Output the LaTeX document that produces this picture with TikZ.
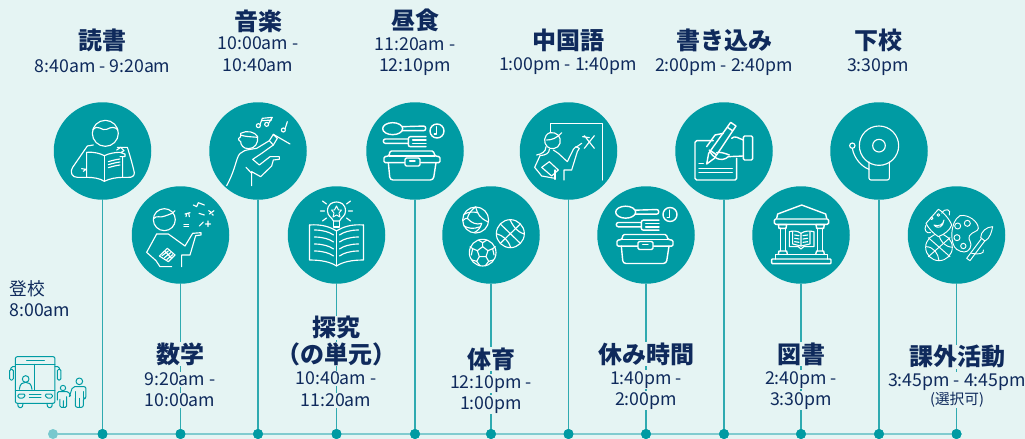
\documentclass[tikz,border=0pt]{standalone}
\usepackage{fontspec}
\setmainfont{Noto Sans CJK JP}
\definecolor{bgc}{HTML}{E5F4F3}
\definecolor{tealc}{HTML}{009BA3}
\definecolor{stemc}{HTML}{2FAAB0}
\definecolor{axisc}{HTML}{80CBCF}
\definecolor{startc}{HTML}{78C8CE}
\definecolor{navy}{HTML}{0F2A5C}
\tikzset{
 disc/.style={circle,fill=tealc,minimum size=97.5*0.75pt,inner sep=0pt},
 dot/.style={circle,fill=tealc,minimum size=10*0.75pt,inner sep=0pt},
 stem/.style={draw=stemc,line width=1.1pt},
 title/.style={text=navy,font=\fontsize{18}{18}\selectfont\bfseries,inner sep=0.5pt,fill=bgc,yshift=-0.7pt},
 tm/.style={text=navy,font=\fontsize{13.3}{14}\selectfont,inner sep=0.5pt,fill=bgc,yshift=-1.2pt},
 ic/.style={draw=white,line width=0.85pt,line join=round,line cap=round},
 ict/.style={ic,line width=1.05pt},
 icf/.style={ic,line width=0.7pt},
 bus/.style={draw=tealc,line width=0.75pt,line join=round,line cap=round}
}
\newcommand{\lunchicon}{%
 \draw[ict] (158,116) ellipse (30 and 18);
 \draw[ict,rounded corners=1.5pt] (187,110)--(257,108)--(257,122)--(187,122);
 \draw[ict] (291,123) circle (21);
 \draw[ict] (290,110)--(290,132)--(283,132);
 \draw[ict,rounded corners=1.5pt] (205,147)--(130,147)--(130,160)--(205,160);
 \draw[ict,rounded corners=1.5pt] (258,140)--(205,140)--(205,170)--(258,170);
 \draw[ict] (218,150)--(258,150) (218,160)--(258,160);
 \draw[ict,rounded corners=1pt] (147,198)--(150,183)--(280,183)--(285,198)--(300,200)--(300,218)--(132,218)--(132,200)--cycle;
 \draw[ict] (147,198)--(285,198);
 \draw[ict,rounded corners=2.2pt] (145,218)--(150,270)--(280,270)--(288,218);
 \draw[ict,rounded corners=1pt,fill=tealc] (195,204) rectangle (240,228);
 \draw[ict] (209,213)--(225,213);
}
\begin{document}
\begin{tikzpicture}[x=0.75pt,y=-0.75pt]
\useasboundingbox (0,0) rectangle (1025,439);
\fill[bgc] (0,0) rectangle (1025,439);
% axis
\node[circle,fill=startc,minimum size=10*0.75pt,inner sep=0pt] (d0) at (53,434) {};
\foreach \n/\x in {1/102.5,2/180.5,3/258,4/336.5,5/415,6/491,7/568.5,8/646,9/724,10/801,11/879,12/956.5}{
  \node[dot] (d\n) at (\x,434) {};
}
\draw[draw=axisc,line width=1.1pt] (d0) -- (d12);
% discs
\foreach \n/\x/\y in {1/102.5/151,2/180.5/235,3/258/151,4/336.5/235,5/415/151,6/491/235,7/568.5/151,8/646/235,9/724/151,10/801/235,11/879/151,12/956.5/235}{
  \node[disc] (c\n) at (\x,\y) {};
  \draw[stem] (c\n) -- (d\n);
  \node[dot] at (d\n) {};
}
% labels
\node[title] at (102.5,39) {読書};
\node[tm] at (102.5,65) {8:40am - 9:20am};
\node[title] at (258,20) {音楽};
\node[tm] at (258,42) {10:00am -};
\node[tm] at (258,64) {10:40am};
\node[title] at (415,19) {昼食};
\node[tm] at (415,43) {11:20am -};
\node[tm] at (415,65) {12:10pm};
\node[title] at (568,39) {中国語};
\node[tm] at (568,64) {1:00pm - 1:40pm};
\node[title] at (724,39) {書き込み};
\node[tm] at (724,65) {2:00pm - 2:40pm};
\node[title] at (878,39) {下校};
\node[tm] at (878,65) {3:30pm};
\node[title] at (180,353) {数学};
\node[tm] at (180,378) {9:20am -};
\node[tm] at (180,399) {10:00am};
\node[title] at (336,327) {探究};
\node[title] at (336,353) {（の単元）};
\node[tm] at (336,377) {10:40am -};
\node[tm] at (336,399) {11:20am};
\node[title] at (491,358) {体育};
\node[tm] at (491,382) {12:10pm -};
\node[tm] at (491,403) {1:00pm};
\node[title] at (646,353) {休み時間};
\node[tm] at (646,378) {1:40pm -};
\node[tm] at (646,399) {2:00pm};
\node[title] at (801,353) {図書};
\node[tm] at (801,378) {2:40pm -};
\node[tm] at (801,399) {3:30pm};
\node[title] at (957,356) {課外活動};
\node[tm] at (957,380) {3:45pm - 4:45pm};
\node[tm,font=\fontsize{11}{11}\selectfont] at (957,398) {(選択可)};
\node[tm,anchor=west,fill=none] at (8.5,287) {登校};
\node[tm,anchor=west,fill=none] at (8.5,309) {8:00am};
% ---------- zoom-1 icons
\begin{scope}[shift={(0,90)},scale=1/3]
 % reader
 \draw[ic] (316,130) circle (39);
 \draw[ic] (278,120) .. controls (295,100) and (305,125) .. (320,118) .. controls (335,110) and (345,110) .. (354,120);
 \draw[ic] (280,165)--(262,168)--(218,232) .. controls (208,250) and (218,262) .. (232,262)--(260,262);
 \draw[ic] (260,187) .. controls (280,185) and (300,190) .. (313,197) .. controls (328,190) and (345,187) .. (360,187);
 \draw[ic] (260,187)--(260,262) .. controls (280,262) and (300,265) .. (313,274) .. controls (328,266) and (350,262) .. (368,262)--(368,200);
 \draw[ic] (313,197)--(313,274);
 \draw[ic] (325,215) .. controls (335,212) and (350,208) .. (360,207);
 \draw[ic] (325,224) .. controls (335,221) and (350,217) .. (360,216);
 \draw[ic] (325,233) .. controls (335,230) and (350,226) .. (360,225);
 \draw[ic] (245,236)--(258,238)--(250,244);
 \draw[ic] (352,172)--(382,172) .. controls (388,190) and (398,225) .. (403,248) .. controls (404,258) and (395,263) .. (385,262)--(368,262);
 \draw[ic] (350,180)--(362,172)--(372,182)--(362,188)--(375,192)--(375,200)--(360,200);
 % math
 \draw[ic] (493,389) circle (33);
 \draw[ic] (462,385) .. controls (470,375) and (480,385) .. (495,378) .. controls (505,372) and (515,375) .. (525,362);
 \draw[ic] (470,432)--(505,432)--(555,468)--(578,430)--(603,428)--(603,435)--(587,437)--(570,495)--(545,495)--(545,530);
 \draw[ic] (470,432)--(440,487)--(468,512)--(480,530)--(515,530);
 \draw[ic] (478,498)--(502,475)--(525,495)--(505,515)--cycle;
 \draw[ic] (486,497)--(505,483) (493,503)--(512,488) (500,509)--(518,494) (495,484)--(515,505);
 \draw[ic] (555,372)--(570,368) (560,372)--(558,380) (566,370)--(568,380);
 \draw[ic] (580,345)--(590,350)--(595,338)--(613,345);
 \draw[ic] (597,370)--(613,375);
 \draw[ic] (628,372)--(642,362) (626,362)--(632,366) (636,372)--(640,376);
 \draw[ic] (552,403)--(566,403) (552,410)--(566,410);
 \draw[ic] (598,408)--(610,396) (616,402)--(632,402) (624,393)--(624,410);
 % conductor
 \draw[ic] (722,130) .. controls (740,120) and (765,125) .. (773,140) .. controls (775,160) and (765,176) .. (745,176) .. controls (730,176) and (722,165) .. (722,155) .. controls (712,150) and (715,140) .. (722,140)--cycle;
 \draw[ic] (722,135) .. controls (735,140) and (750,140) .. (773,142);
 \draw[ic] (680,287) .. controls (700,250) and (705,225) .. (712,205) .. controls (720,180) and (740,180) .. (770,175)--(808,152)--(820,165)--(785,190)--(758,208)--(778,225)--(810,200)--(838,200)--(838,208)--(820,210)--(815,228)--(782,260)--(755,245)--(755,287);
 \draw[ic] (738,232)--(755,250);
 \draw[ic] (808,152)--(820,133)--(832,145)--(820,165);
 \draw[ic] (820,133)--(870,162);
 \draw[ic] (775,107) circle (6) (800,103) circle (6) (850,120) circle (6);
 \draw[ic] (780,104)--(787,85)--(817,82)--(806,100) (786,92)--(815,90);
 \draw[ic] (855,117)--(862,95);
\end{scope}
% ---------- book with bulb
\begin{scope}[shift={(336.5,235)}]
 \draw[ic] (-27,-10) .. controls (-15,-11) and (-6,-8) .. (0,-4) .. controls (6,-8) and (15,-11) .. (27,-10);
 \draw[ic] (-27,-10)--(-27,25) .. controls (-15,25) and (-6,27) .. (0,31) .. controls (6,27) and (15,25) .. (27,25)--(27,-10);
 \draw[ic] (0,-4)--(0,31);
 \foreach \dy in {0,7,14,21}{
 \draw[ic] (-22,-5+\dy) .. controls (-14,-5+\dy) and (-7,-3+\dy) .. (-3,\dy);
 \draw[ic] (22,-5+\dy) .. controls (14,-5+\dy) and (7,-3+\dy) .. (3,\dy);
 }
 \draw[ic] (-3,-14)--(-3,-8)--(3,-8)--(3,-14);
 \draw[ic] (-3,-14) .. controls (-5,-18) and (-9,-19) .. (-9,-24) .. controls (-9,-31) and (-4,-33) .. (0,-33) .. controls (4,-33) and (9,-31) .. (9,-24) .. controls (9,-19) and (5,-18) .. (3,-14)--cycle;
 \draw[icf] (0,-29)--(2,-25)--(5,-25)--(2.5,-22)--(3.5,-18)--(0,-20)--(-3.5,-18)--(-2.5,-22)--(-5,-25)--(-2,-25)--cycle;
 \draw[ic] (-12,-24)--(-16,-24) (-10,-31)--(-14,-34) (-10,-17)--(-14,-14) (12,-24)--(16,-24) (10,-31)--(14,-34) (10,-17)--(14,-14);
\end{scope}
% ---------- zoom-2 icons
\begin{scope}[shift={(340,90)},scale=1/3]
 \lunchicon
 % volleyball
 \draw[ic] (407,390) circle (39);
 \draw[ic] (407,351) .. controls (412,372) and (420,385) .. (445,396);
 \draw[ic] (407,351) .. controls (395,358) and (385,372) .. (382,385) .. controls (395,400) and (410,405) .. (425,400);
 \draw[ic] (372,373) .. controls (385,365) and (400,365) .. (413,368);
 \draw[ic] (368,392) .. controls (375,385) and (378,385) .. (382,385);
 \draw[ic] (425,400) .. controls (422,412) and (415,422) .. (402,428);
 \draw[ic] (372,408) .. controls (385,415) and (400,418) .. (418,411);
 % basketball
 \draw[ic] (511,431) circle (42);
 \draw[ic] (481,402)--(541,460) (541,402)--(481,460);
 \draw[ic] (510,389) .. controls (520,410) and (530,425) .. (553,432) (469,431) .. controls (490,437) and (505,450) .. (512,473);
 % soccer
 \draw[ic] (428,488) circle (40);
 \draw[ic] (428,470)--(444,482)--(438,500)--(418,500)--(412,482)--cycle;
 \draw[ic] (428,470)--(428,458) (444,482)--(458,476) (438,500)--(446,514) (418,500)--(410,514) (412,482)--(398,476);
 \draw[ic] (415,450)--(428,458)--(441,450) (458,476)--(466,470) (458,476)--(462,495) (446,514)--(460,510) (446,514)--(436,527) (410,514)--(420,527) (410,514)--(396,510) (398,476)--(394,495) (398,476)--(390,470);
 % teacher
 \draw[ic] (632,128)--(632,100)--(787,100)--(787,270);
 \draw[ic] (733,137)--(763,175) (763,137)--(733,175) (728,140)--(748,143);
 \draw[ic] (630,128) .. controls (650,125) and (665,140) .. (660,160) .. controls (655,178) and (630,180) .. (622,170) .. controls (610,160) and (610,135) .. (630,128)--cycle;
 \draw[ic] (620,150) .. controls (635,150) and (650,145) .. (665,128);
 \draw[ic] (618,170) .. controls (618,185) and (605,192) .. (590,195);
 \draw[ic] (628,178) .. controls (628,190) and (618,195) .. (600,197)--(584,232)--(605,258)--(645,265);
 \draw[ic] (640,180)--(655,190)--(682,215)--(700,178)--(708,170)--(718,175)--(712,185)--(695,240)--(672,240)--(672,270);
 \draw[ic] (708,172)--(725,160);
 \draw[ic] (605,232)--(628,215)--(655,240)--(635,258)--cycle;
 \draw[ic] (645,240)--(645,268);
\end{scope}
\begin{scope}[shift={(573,173.5)},scale=1/3]
 \lunchicon
\end{scope}
% ---------- zoom-3 icons
\begin{scope}[shift={(670,90)},scale=1/3]
 % writing
 \draw[ict,rounded corners=1.2pt] (130,152)--(75,152)--(75,270)--(200,270)--(200,205);
 \draw[ict] (87,220)--(100,220) (87,235)--(187,235) (87,248)--(187,248);
 \draw[ict] (182,97)--(198,108)--(133,205)--(110,222)--(116,190)--cycle;
 \draw[ict] (172,112)--(188,122);
 \draw[ict] (122,182)--(140,195);
 \draw[ict] (110,170)--(135,135)--(160,130);
 \draw[ict,rounded corners=1pt] (220,138) rectangle (248,210);
 \draw[ict] (185,145) .. controls (195,135) and (205,145) .. (220,150);
 \draw[ict] (220,198)--(175,200) .. controls (165,210) and (150,210) .. (140,205) .. controls (130,200) and (125,195) .. (118,180);
 \draw[ict] (140,188) .. controls (150,185) and (165,190) .. (178,195);
 % bell
 \draw[ic] (627,167) circle (59);
 \draw[ic] (627,167) circle (19);
 \draw[ic] (547,167) circle (8);
 \draw[ic] (547,175) .. controls (552,205) and (575,230) .. (597,238);
 \draw[ic,rounded corners=1.5pt] (597,216)--(597,270)--(658,270)--(658,216);
 % library
 \draw[ict] (320,385)--(323,372)--(395,345)--(467,372)--(470,385);
 \draw[ict,rounded corners=1pt] (313,387) rectangle (476,403);
 \draw[ict] (325,404)--(350,404)--(348,415)--(327,415)--cycle;
 \draw[ict] (438,404)--(463,404)--(461,415)--(440,415)--cycle;
 \draw[ict] (331,415)--(331,483) (346,415)--(346,483) (443,415)--(443,483) (458,415)--(458,483);
 \draw[ict] (325,493)--(327,483)--(350,483)--(352,493);
 \draw[ict] (437,493)--(440,483)--(461,483)--(463,493);
 \draw[ict] (316,507)--(316,493)--(473,493)--(473,507);
 \draw[ict,rounded corners=0.6pt] (305,507) rectangle (483,521);
 \draw[ic] (393,430) .. controls (382,422) and (370,422) .. (358,425)--(358,470)--(385,470)--(393,477)--(401,470)--(432,470)--(432,425) .. controls (418,422) and (405,422) .. (393,430)--(393,468);
 \draw[ic] (368,424)--(368,462)--(393,468)--(420,462)--(420,424);
 \draw[ic] (374,435)--(387,437) (374,445)--(387,447) (374,455)--(387,457) (399,437)--(413,435) (399,447)--(413,445) (399,457)--(413,455);
 % art
 \draw[icf] (807,472) circle (40);
 \draw[icf] (775,443)--(840,500) (840,443)--(775,500);
 \draw[icf] (768,470) .. controls (790,470) and (805,490) .. (807,512) (807,433) .. controls (810,455) and (825,470) .. (847,472);
 \draw[icf,fill=tealc] (768,400)--(805,358) .. controls (820,365) and (840,390) .. (845,405) .. controls (840,420) and (825,432) .. (805,440) .. controls (790,430) and (775,415) .. (768,400)--cycle;
 \draw[icf] (785,385) circle (4) (805,375) circle (4);
 \draw[icf] (792,405) .. controls (805,420) and (820,410) .. (822,390) .. controls (820,405) and (805,410) .. (792,405);
 \draw[icf] (815,370) .. controls (825,352) and (845,358) .. (838,375);
 \draw[icf] (768,405) .. controls (760,420) and (770,432) .. (782,428);
 \draw[icf,fill=tealc] (870,377) .. controls (895,372) and (925,395) .. (925,415) .. controls (925,425) and (905,425) .. (898,438) .. controls (892,450) and (910,458) .. (900,475) .. controls (892,490) and (875,488) .. (860,478) .. controls (840,465) and (838,395) .. (870,377)--cycle;
 \draw[icf] (863,408) circle (9) (892,400) circle (9) (861,443) circle (9) (880,468) circle (8);
 \draw[icf,fill=tealc] (890,505)--(935,445)--(945,452)--(900,512)--cycle;
 \draw[icf,fill=tealc] (932,443) .. controls (932,425) and (950,410) .. (968,410) .. controls (965,425) and (960,445) .. (945,453)--cycle;
 \draw[icf] (905,490) .. controls (925,495) and (945,490) .. (940,480);
\end{scope}
% ---------- bus
\begin{scope}[shift={(0,270)},scale=1/3]
 \draw[bus,rounded corners=1.5pt] (46,400)--(46,260)--(165,260)--(165,400)--cycle;
 \draw[bus] (46,283)--(165,283) (80,272)--(133,272) (105,283)--(105,360) (46,360)--(165,360);
 \draw[bus,rounded corners=1pt] (53,400)--(55,413)--(67,413)--(69,400) (141,400)--(143,413)--(155,413)--(157,400);
 \draw[bus,rounded corners=1pt] (46,290)--(34,290)--(32,298) (165,290)--(177,290)--(179,298);
 \draw[bus,rounded corners=1pt] (29,298) rectangle (40,330) (172,298) rectangle (183,330);
 \draw[bus] (77,327) circle (10);
 \draw[bus] (58,358) .. controls (60,340) and (68,337) .. (77,337) .. controls (86,337) and (94,340) .. (96,358);
 \draw[bus,rounded corners=1pt] (54,372)--(76,372)--(72,384)--(54,384)--cycle (157,372)--(135,372)--(139,384)--(157,384)--cycle;
 \draw[bus] (88,373)--(123,373) (88,382)--(123,382);
 \draw[bus] (238,334) circle (10);
 \draw[bus] (189,354) circle (8);
 \draw[bus,rounded corners=1.5pt] (208,380)--(218,350)--(258,350)--(258,385)--(250,385)--(250,412)--(226,412)--(226,385);
 \draw[bus] (238,385)--(238,412) (226,365)--(226,385) (250,365)--(250,385);
 \draw[bus,rounded corners=1pt] (172,390)--(172,365)--(205,365)--(212,378) (180,388)--(180,412)--(200,412)--(200,380) (190,392)--(190,412);
\end{scope}
\end{tikzpicture}
\end{document}
